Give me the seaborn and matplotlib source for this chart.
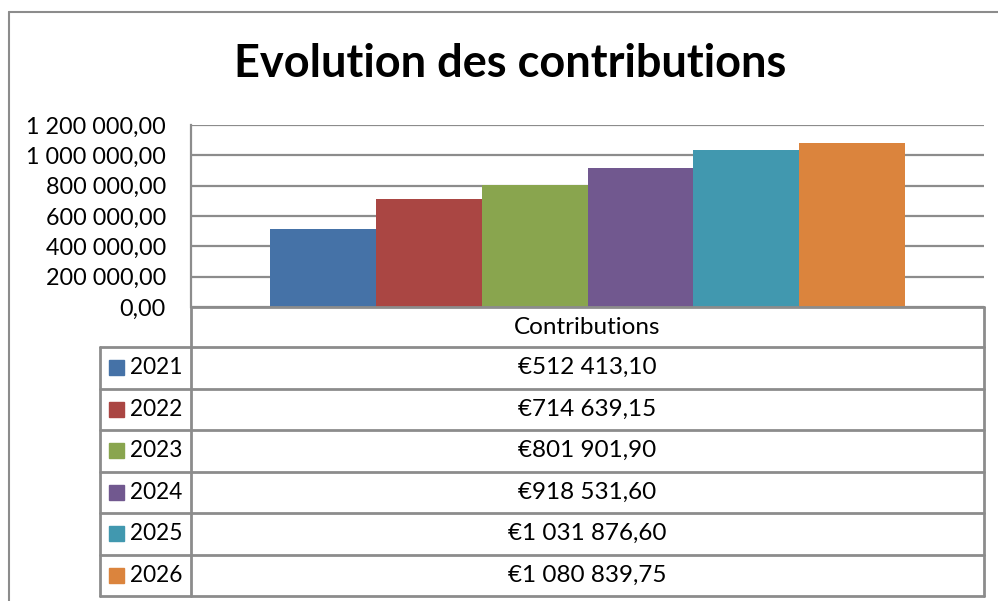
import numpy as np
import pandas as pd
import seaborn as sns
import matplotlib.pyplot as plt
from matplotlib.lines import Line2D
from matplotlib.patches import Rectangle

years = ['2021', '2022', '2023', '2024', '2025', '2026']
contributions = [512413.10, 714639.15, 801901.90, 918531.60, 1031876.60, 1080839.75]
colors = ['#4572A7', '#AA4643', '#89A54E', '#71588F', '#4198AF', '#DB843D']
category = 'Contributions'
yticks = [0, 200000, 400000, 600000, 800000, 1000000, 1200000]

def fr(v, dec=2):
    s = f'{v:,.{dec}f}'
    return s.replace(',', ' ').replace('.', ',')

df = pd.DataFrame({'cat': category, 'year': years, 'value': contributions})

sns.set_style('white')
plt.rcParams['font.family'] = ['Lato', 'DejaVu Sans']
plt.rcParams['text.color'] = 'black'
plt.rcParams['ytick.color'] = 'black'

W, H = 998, 601
fig = plt.figure(figsize=(W / 100, H / 100), dpi=100)
grey = '#8c8c8c'

# plot area in pixel coords
px_l, px_r, px_t, px_b = 191, 984, 125, 307
ax = fig.add_axes([px_l / W, 1 - px_b / H, (px_r - px_l) / W, (px_b - px_t) / H])
sns.barplot(data=df, x='cat', y='value', hue='year', palette=colors,
            width=0.8, saturation=1, legend=False, ax=ax, zorder=3)
for p in ax.patches:
    p.set_edgecolor('none')
ax.set_ylim(0, 1200000)
ax.set_xlim(-0.5, 0.5)
ax.set_yticks(yticks)
ax.set_yticklabels([fr(v) for v in yticks], fontsize=16.8)
ax.tick_params(axis='y', length=0, pad=18)
ax.set_xticks([])
ax.set_xlabel('')
ax.set_ylabel('')
ax.grid(axis='y', color=grey, lw=1.6, zorder=0)
for s in ax.spines.values():
    s.set_visible(False)
ax.spines['left'].set_visible(True)
ax.spines['left'].set_color(grey)
ax.spines['left'].set_linewidth(1.6)

# overlay in pixel coordinates for frame and data table
ov = fig.add_axes([0, 0, 1, 1], zorder=5)
ov.set_xlim(0, W)
ov.set_ylim(H, 0)
ov.axis('off')
ov.patch.set_alpha(0)

def hline(x0, x1, y, lw=2):
    ov.add_line(Line2D([x0, x1], [y, y], color=grey, lw=lw))

def vline(x, y0, y1, lw=2):
    ov.add_line(Line2D([x, x], [y0, y1], color=grey, lw=lw))

# outer chart frame
hline(9, W, 12, lw=1.5)
vline(9, 12, H, lw=1.5)

ov.text(510, 64, 'Evolution des contributions', ha='center', va='center',
        fontsize=32.5, fontweight='bold')

# data table
tab_l = 100
row_h = (596 - 347) / len(years)
hline(px_l, px_r, px_b)
vline(px_l, px_b, 596)
vline(px_r, px_b, 596)
hline(px_l, px_r, 347)
ov.text((px_l + px_r) / 2, 327, category, ha='center', va='center', fontsize=17.5)
for i, (yr, v, c) in enumerate(zip(years, contributions, colors)):
    y0 = 347 + i * row_h
    y1 = y0 + row_h
    hline(tab_l, px_r, y1)
    ym = (y0 + y1) / 2
    ov.add_patch(Rectangle((109, ym - 7.5), 15, 15, color=c))
    ov.text(130, ym, yr, ha='left', va='center', fontsize=16.3)
    ov.text((px_l + px_r) / 2, ym, '€' + fr(v), ha='center', va='center', fontsize=17.5)
hline(tab_l, px_l, 347)
vline(tab_l, 347, 596)

fig.savefig('out.png', dpi=100)
